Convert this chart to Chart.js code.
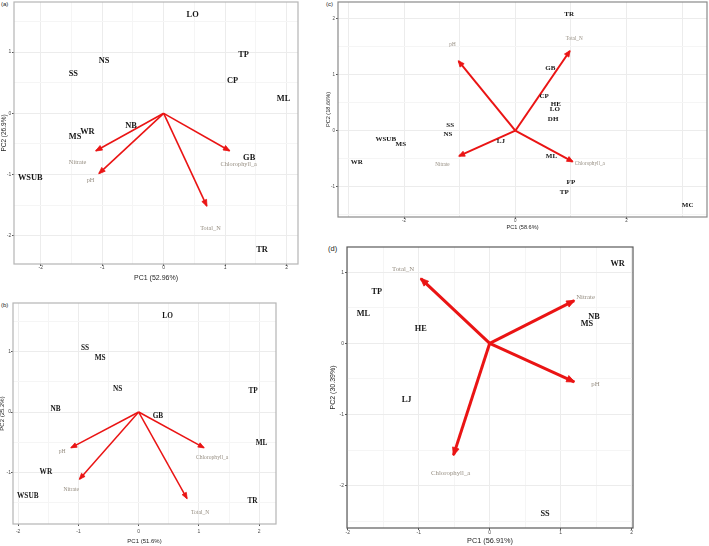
<!DOCTYPE html>
<html>
<head>
<meta charset="utf-8">
<script src="https://cdn.jsdelivr.net/npm/chart.js@4.4.1/dist/chart.umd.min.js"></script>
<style>
  body { margin: 0; background: #fff; }
  #page { position: relative; width: 709px; height: 546px; overflow: hidden; }
  #page canvas { position: absolute; }
  .tag { position: absolute; font-family: "Liberation Sans", Arial, sans-serif; color: #222; line-height: 1; }
</style>
</head>
<body>
<div id="page">
  <div class="tag" style="left:1px;top:1px;font-size:6px">(a)</div>
  <div class="tag" style="left:1px;top:302px;font-size:6px">(b)</div>
  <div class="tag" style="left:326px;top:1px;font-size:6px">(c)</div>
  <div class="tag" style="left:328px;top:245px;font-size:7.5px">(d)</div>
</div>
<script>
// ---- panel (a)
const aSites = ['LO', 'TP', 'CP', 'ML', 'NS', 'SS', 'NB', 'WR', 'MS', 'WSUB', 'GB', 'TR'];
const aPC1 = [0.47, 1.30, 1.12, 1.95, -0.97, -1.47, -0.53, -1.24, -1.44, -2.17, 1.39, 1.60];
const aPC2 = [1.60, 0.96, 0.53, 0.23, 0.85, 0.64, -0.20, -0.30, -0.38, -1.05, -0.72, -2.23];
const aVars = ['Nitrate', 'pH', 'Total_N', 'Chlorophyll_a'];
const aLoad1 = [-1.10, -1.05, 0.70, 1.07];
const aLoad2 = [-0.61, -0.98, -1.51, -0.61];
const aVarLab1 = [-1.40, -1.19, 0.76, 1.22];
const aVarLab2 = [-0.80, -1.10, -1.88, -0.83];

// ---- panel (b)
const bSites = ['LO', 'SS', 'MS', 'NS', 'TP', 'NB', 'GB', 'ML', 'WR', 'WSUB', 'TR'];
const bPC1 = [0.48, -0.89, -0.64, -0.35, 1.90, -1.38, 0.32, 2.04, -1.54, -1.84, 1.89];
const bPC2 = [1.59, 1.06, 0.89, 0.38, 0.35, 0.05, -0.07, -0.52, -0.99, -1.40, -1.48];
const bVars = ['pH', 'Nitrate', 'Total_N', 'Chlorophyll_a'];
const bLoad1 = [-1.12, -0.98, 0.80, 1.08];
const bLoad2 = [-0.59, -1.11, -1.43, -0.59];
const bVarLab1 = [-1.27, -1.12, 1.02, 1.22];
const bVarLab2 = [-0.66, -1.29, -1.67, -0.76];

// ---- panel (c)
const cSites = ['TR', 'GB', 'CP', 'HE', 'LO', 'DH', 'SS', 'NS', 'WSUB', 'MS', 'LJ', 'WR', 'ML', 'FP', 'TP', 'MC'];
const cPC1 = [0.97, 0.63, 0.52, 0.73, 0.71, 0.68, -1.17, -1.21, -2.33, -2.06, -0.26, -2.85, 0.65, 1.00, 0.88, 3.10];
const cPC2 = [2.08, 1.12, 0.62, 0.48, 0.39, 0.21, 0.10, -0.06, -0.15, -0.24, -0.18, -0.56, -0.45, -0.92, -1.09, -1.33];
const cVars = ['pH', 'Total_N', 'Nitrate', 'Chlorophyll_a'];
const cLoad1 = [-1.02, 0.98, -1.01, 1.03];
const cLoad2 = [1.24, 1.42, -0.45, -0.55];
const cVarLab1 = [-1.13, 1.06, -1.31, 1.34];
const cVarLab2 = [1.53, 1.64, -0.60, -0.59];

// ---- panel (d)
const dSites = ['WR', 'TP', 'ML', 'HE', 'NB', 'MS', 'LJ', 'SS'];
const dPC1 = [1.80, -1.59, -1.78, -0.97, 1.47, 1.37, -1.17, 0.78];
const dPC2 = [1.11, 0.72, 0.41, 0.20, 0.37, 0.28, -0.79, -2.39];
const dVars = ['Total_N', 'Nitrate', 'pH', 'Chlorophyll_a'];
const dLoad1 = [-0.97, 1.19, 1.19, -0.51];
const dLoad2 = [0.91, 0.60, -0.54, -1.57];
const dVarLab1 = [-1.22, 1.35, 1.49, -0.55];
const dVarLab2 = [1.04, 0.65, -0.58, -1.83];

const SANS = '"Liberation Sans", Arial, sans-serif';
const SERIF = '"Liberation Serif", "Times New Roman", serif';

// draws arrow heads, variable names, site names and the panel frame
const biplotLabels = {
    id: 'biplotLabels',
    afterDatasetsDraw(chart, args, opts) {
        const {ctx, chartArea: area, scales: {x, y}} = chart;
        ctx.save();
        chart.data.datasets.forEach((ds, i) => {
            if (!ds.isArrow) return;
            const pts = chart.getDatasetMeta(i).data;
            const p0 = pts[0], p1 = pts[1];
            const ang = Math.atan2(p1.y - p0.y, p1.x - p0.x);
            const len = opts.headLen, half = opts.headHalf;
            const bx = p1.x - Math.cos(ang) * len, by = p1.y - Math.sin(ang) * len;
            ctx.fillStyle = ds.borderColor;
            ctx.strokeStyle = ds.borderColor;
            ctx.lineWidth = 0.8;
            ctx.beginPath();
            ctx.moveTo(p1.x + Math.cos(ang) * 0.6, p1.y + Math.sin(ang) * 0.6);
            ctx.lineTo(bx - Math.sin(ang) * half, by + Math.cos(ang) * half);
            ctx.lineTo(bx + Math.sin(ang) * half, by - Math.cos(ang) * half);
            ctx.closePath();
            ctx.fill();
            ctx.stroke();
        });
        ctx.textAlign = 'center';
        ctx.textBaseline = 'middle';
        ctx.font = opts.varSize + 'px ' + SERIF;
        ctx.fillStyle = '#968e82';
        opts.varNames.forEach((v, i) => {
            ctx.fillText(v, x.getPixelForValue(opts.varX[i]), y.getPixelForValue(opts.varY[i]));
        });
        ctx.font = 'bold ' + opts.siteSize + 'px ' + SERIF;
        ctx.fillStyle = '#161616';
        const siteData = chart.data.datasets[0].data;
        chart.getDatasetMeta(0).data.forEach((pt, j) => {
            ctx.fillText(siteData[j].label, pt.x, pt.y);
        });
        ctx.strokeStyle = opts.frameColor;
        ctx.lineWidth = opts.frameWidth;
        ctx.strokeRect(area.left, area.top, area.width, area.height);
        ctx.restore();
    }
};

function onStep(v, step) {
    return Math.abs(v / step - Math.round(v / step)) < 1e-6;
}

function makeAxis(s, horizontal) {
    const r = horizontal ? s.xRange : s.yRange;
    const step = horizontal ? s.xStep : s.yStep;
    const major = horizontal ? s.xMajor : s.yMajor;
    const tickSize = s.tickSize;
    const lh = tickSize * 1.2;
    const pad = horizontal ? s.xTickGap - 2 - lh / 2 : s.yTickGap - 2;
    const titleSize = horizontal ? s.xTitleSize : s.yTitleSize;
    return {
        type: 'linear',
        position: horizontal ? 'bottom' : 'left',
        min: r[0],
        max: r[1],
        ticks: {
            stepSize: step,
            includeBounds: false,
            autoSkip: false,
            maxRotation: 0,
            padding: pad,
            color: '#4d4d4d',
            font: {family: SANS, size: tickSize},
            callback: v => onStep(v, major) ? String(Math.round(v)) : ''
        },
        grid: {
            color: c => (c.tick && onStep(c.tick.value, 1)) ? '#ececec' : '#f5f5f5',
            lineWidth: 1,
            tickLength: 2,
            tickColor: c => (c.tick && onStep(c.tick.value, major)) ? '#555' : 'rgba(0,0,0,0)'
        },
        border: {display: false},
        title: {
            display: true,
            text: horizontal ? s.xTitle : s.yTitle,
            color: '#262626',
            font: {family: SANS, size: titleSize},
            padding: horizontal ? {top: 0, bottom: s._xTitlePad} : {top: s._yTitlePad, bottom: 0}
        },
        afterFit: scale => {
            if (horizontal) scale.height = s._xh; else scale.width = s._yw;
        }
    };
}

function makePanel(s) {
    const P = 10;
    const box = s.box;
    const yHalf = s.yTitleSize * 1.2 / 2, xHalf = s.xTitleSize * 1.2 / 2;
    const left = Math.floor(s.yTitleX - yHalf - P);
    const top = box.T - P;
    s._yw = box.L - left - P;
    s._yTitlePad = s.yTitleX - (left + P) - yHalf;
    const W = Math.ceil(box.R + P - left);
    const H = Math.ceil(box.B - top + (s.xTitleY - box.B + xHalf) + P);
    s._xh = H - P - (box.B - top);
    s._xTitlePad = (top + H - P - s.xTitleY) - xHalf;

    const canvas = document.createElement('canvas');
    canvas.width = W;
    canvas.height = H;
    canvas.style.left = left + 'px';
    canvas.style.top = top + 'px';
    canvas.style.width = W + 'px';
    canvas.style.height = H + 'px';
    document.getElementById('page').appendChild(canvas);

    const datasets = [{
        label: 'sites',
        data: s.sites.map((n, i) => ({x: s.pc1[i], y: s.pc2[i], label: n})),
        pointRadius: 0,
        pointHoverRadius: 0
    }];
    s.vars.forEach((v, i) => {
        datasets.push({
            label: v,
            isArrow: true,
            data: [{x: 0, y: 0}, {x: s.load1[i], y: s.load2[i]}],
            showLine: true,
            borderColor: '#ea1414',
            borderWidth: s.arrowWidth,
            borderCapStyle: 'butt',
            pointRadius: 0,
            pointHoverRadius: 0
        });
    });

    new Chart(canvas, {
        type: 'scatter',
        data: {datasets},
        options: {
            responsive: false,
            animation: false,
            devicePixelRatio: 1,
            layout: {padding: {left: P, top: P, right: W - (box.R - left), bottom: P}},
            scales: {x: makeAxis(s, true), y: makeAxis(s, false)},
            plugins: {
                legend: {display: false},
                tooltip: {enabled: false},
                biplotLabels: {
                    varNames: s.vars, varX: s.varLab1, varY: s.varLab2,
                    siteSize: s.siteSize, varSize: s.varSize,
                    headLen: s.headLen, headHalf: s.headHalf,
                    frameColor: s.frameColor, frameWidth: s.frameWidth
                }
            }
        },
        plugins: [biplotLabels]
    });
}

makePanel({
    sites: aSites, pc1: aPC1, pc2: aPC2, vars: aVars, load1: aLoad1, load2: aLoad2,
    varLab1: aVarLab1, varLab2: aVarLab2,
    box: {L: 14, T: 2, R: 298, B: 264},
    xRange: [-2.434, 2.184], yRange: [-2.458, 1.816],
    xStep: 0.5, xMajor: 1, yStep: 0.5, yMajor: 1,
    xTitle: 'PC1 (52.96%)', yTitle: 'PC2 (26.9%)',
    xTitleY: 278, yTitleX: 4, xTitleSize: 7, yTitleSize: 6.5,
    tickSize: 5, xTickGap: 4, yTickGap: 2.7,
    siteSize: 8.4, varSize: 6.3, arrowWidth: 1.6, headLen: 6, headHalf: 2.6,
    frameColor: '#b5b5b5', frameWidth: 1.2
});

makePanel({
    sites: bSites, pc1: bPC1, pc2: bPC2, vars: bVars, load1: bLoad1, load2: bLoad2,
    varLab1: bVarLab1, varLab2: bVarLab2,
    box: {L: 13, T: 303, R: 276, B: 524},
    xRange: [-2.086, 2.279], yRange: [-1.856, 1.807],
    xStep: 0.5, xMajor: 1, yStep: 0.5, yMajor: 1,
    xTitle: 'PC1 (51.6%)', yTitle: 'PC2 (25.2%)',
    xTitleY: 541.5, yTitleX: 2.5, xTitleSize: 6, yTitleSize: 6,
    tickSize: 5, xTickGap: 8, yTickGap: 2,
    siteSize: 7.3, varSize: 5.6, arrowWidth: 1.5, headLen: 5.5, headHalf: 2.4,
    frameColor: '#b5b5b5', frameWidth: 1.2
});

makePanel({
    sites: cSites, pc1: cPC1, pc2: cPC2, vars: cVars, load1: cLoad1, load2: cLoad2,
    varLab1: cVarLab1, varLab2: cVarLab2,
    box: {L: 338, T: 2, R: 707, B: 217},
    xRange: [-3.189, 3.448], yRange: [-1.538, 2.294],
    xStep: 1, xMajor: 2, yStep: 0.5, yMajor: 1,
    xTitle: 'PC1 (58.6%)', yTitle: 'PC2 (18.66%)',
    xTitleY: 227, yTitleX: 328, xTitleSize: 5.6, yTitleSize: 5.6,
    tickSize: 4.5, xTickGap: 3.3, yTickGap: 3,
    siteSize: 7, varSize: 5.2, arrowWidth: 2, headLen: 5.5, headHalf: 2.7,
    frameColor: '#8a8a8a', frameWidth: 1.2
});

makePanel({
    sites: dSites, pc1: dPC1, pc2: dPC2, vars: dVars, load1: dLoad1, load2: dLoad2,
    varLab1: dVarLab1, varLab2: dVarLab2,
    box: {L: 347, T: 247, R: 633, B: 528},
    xRange: [-2.01, 2.018], yRange: [-2.594, 1.353],
    xStep: 0.5, xMajor: 1, yStep: 0.5, yMajor: 1,
    xTitle: 'PC1 (56.91%)', yTitle: 'PC2 (30.39%)',
    xTitleY: 541, yTitleX: 333, xTitleSize: 7.3, yTitleSize: 7,
    tickSize: 5, xTickGap: 4.3, yTickGap: 3,
    siteSize: 8.3, varSize: 6.8, arrowWidth: 3, headLen: 7.5, headHalf: 3.4,
    frameColor: '#5a5a5a', frameWidth: 1.2
});
</script>
</body>
</html>
